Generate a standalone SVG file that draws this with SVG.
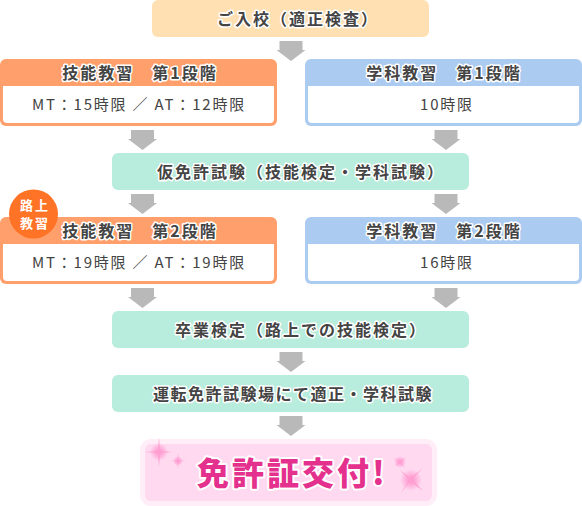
<svg xmlns="http://www.w3.org/2000/svg" width="582" height="506" viewBox="0 0 582 506">
<style>
text{font-family:"Noto Sans CJK JP","Noto Sans",sans-serif;text-anchor:middle}
.h{font-size:16px;font-weight:700;fill:#444;stroke:#fff;stroke-width:3px;paint-order:stroke;stroke-linejoin:round;letter-spacing:2px}
.b{font-size:15px;fill:#444;letter-spacing:1.8px}
.r{font-size:13px;font-weight:700;fill:#fff;letter-spacing:2px}
.a{fill:#b9b9b9}
.or{fill:#ff9f6b}.bl{fill:#abcbf0}.mi{fill:#b8ecdc}.w{fill:#fff}
.sp{fill:#ff9fd0}
</style>
<defs>
<path id="ar" d="M-11.500 0H11.500V9H14.500L0 20L-14.500 9H-11.500Z"/>
<radialGradient id="gl"><stop offset="0" stop-color="#ff8ccb"/><stop offset="1" stop-color="#ff8ccb" stop-opacity="0"/></radialGradient>
</defs>
<g id="connectors" class="a">
<use href="#ar" x="291" y="41"/>
<use href="#ar" x="142.500" y="130"/>
<use href="#ar" x="446" y="130"/>
<use href="#ar" x="142.500" y="194"/>
<use href="#ar" x="446" y="194"/>
<use href="#ar" x="142.500" y="288"/>
<use href="#ar" x="446" y="288"/>
<use href="#ar" x="291" y="352"/>
<use href="#ar" x="291" y="416"/>
</g>
<g id="n-enroll"><rect x="152" y="0" width="277" height="37" rx="6" fill="#ffe0b3"/><text class="h" x="298" y="25">ご入校（適正検査）</text></g>
<g id="n-skill1"><rect class="or" x="0" y="59" width="277" height="67" rx="6"/><path class="w" d="M3 86H274V119a4 4 0 0 1-4 4H7a4 4 0 0 1-4-4Z"/><text class="h" x="140" y="79">技能教習　第1段階</text><text class="b" x="139" y="110">MT：15時限 ／ AT：12時限</text></g>
<g id="n-study1"><rect class="bl" x="305" y="59" width="277" height="67" rx="6"/><path class="w" d="M308 86H579V119a4 4 0 0 1-4 4H312a4 4 0 0 1-4-4Z"/><text class="h" x="444" y="79">学科教習　第1段階</text><text class="b" x="447" y="110">10時限</text></g>
<g id="n-provisional"><rect class="mi" x="112" y="153" width="357" height="37" rx="6"/><text class="h" x="301" y="178">仮免許試験（技能検定・学科試験）</text></g>
<g id="n-skill2"><rect class="or" x="0" y="217" width="277" height="67" rx="6"/><path class="w" d="M3 244H274V277a4 4 0 0 1-4 4H7a4 4 0 0 1-4-4Z"/><text class="h" x="140" y="237">技能教習　第2段階</text><text class="b" x="139" y="268">MT：19時限 ／ AT：19時限</text></g>
<g id="n-road"><circle cx="33.500" cy="214" r="24.500" fill="#ff7327"/><text class="r" x="35" y="210">路上</text><text class="r" x="35" y="228">教習</text></g>
<g id="n-study2"><rect class="bl" x="305" y="217" width="277" height="67" rx="6"/><path class="w" d="M308 244H579V277a4 4 0 0 1-4 4H312a4 4 0 0 1-4-4Z"/><text class="h" x="444" y="237">学科教習　第2段階</text><text class="b" x="447" y="268">16時限</text></g>
<g id="n-graduate"><rect class="mi" x="112" y="311" width="357" height="37" rx="6"/><text class="h" x="301" y="336">卒業検定（路上での技能検定）</text></g>
<g id="n-exam"><rect class="mi" x="112" y="375" width="357" height="37" rx="6"/><text class="h" x="293" y="400" style="letter-spacing:1.500px">運転免許試験場にて適正・学科試験</text></g>
<g id="n-license">
<rect x="140" y="439" width="297" height="67" rx="11" fill="#ffeef8"/>
<rect x="145" y="444" width="287" height="57" rx="6" fill="#ffd9f0"/>
<circle cx="159" cy="452" r="9" fill="url(#gl)"/><circle cx="178" cy="461" r="5" fill="url(#gl)"/>
<circle cx="411" cy="480" r="11" fill="url(#gl)"/><circle cx="400" cy="462" r="6" fill="url(#gl)"/>
<path class="sp" d="M159 437L160 451L173 452L160 453L159 467L158 453L145 452L158 451Z"/>
<path class="sp" d="M178 453L178.600 460.400L186 461L178.600 461.600L178 469L177.400 461.600L170 461L177.400 460.400Z"/>
<path class="sp" d="M422 469L412 479L423 491L410 481L401 493L409 480L400 470L410 478Z"/>
<path class="sp" d="M394 458L400 461L406 457L401 462L405 468L400 463L395 466L399 462Z"/>
<text x="197" y="485" style="text-anchor:start" font-size="32" font-weight="900" fill="#e5318e" stroke="#fff" stroke-width="4" paint-order="stroke" stroke-linejoin="round" letter-spacing="3">免許証交付!</text>
</g>
</svg>
